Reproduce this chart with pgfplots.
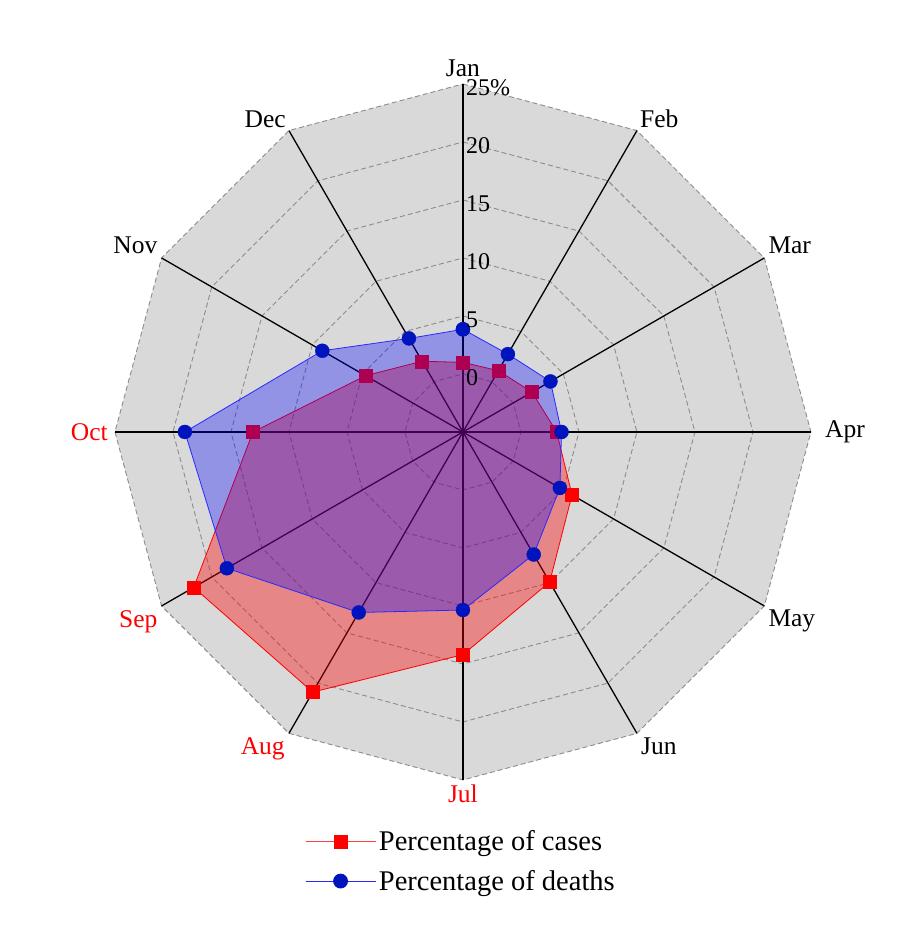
\documentclass[border=0pt]{standalone}
\usepackage{pgfplots}
\pgfplotsset{compat=1.18}
\usepackage{pgfplotstable}
\usepackage{fontspec}
\setmainfont{Liberation Serif}

\definecolor{bggray}{RGB}{217,217,217}
\definecolor{ringgray}{RGB}{140,140,140}
\definecolor{cred}{RGB}{255,0,0}
\definecolor{lblue}{RGB}{40,40,255}
\definecolor{mblue}{RGB}{0,20,190}

\newcommand\mfont{\fontsize{25.5}{30}\selectfont}
\newcommand\tfont{\fontsize{24}{28}\selectfont}
\newcommand\lfont{\fontsize{28.5}{32}\selectfont}

% ang = degrees clockwise from top (Jan); last row closes the polygon
\pgfplotstableread{
ang cases deaths
0   1.0   3.85
30  1.1   2.75
60  1.87  3.71
90  3.08  3.5
120 5.86  4.65
150 9.95  7.2
180 14.2  10.35
210 20.9  12.97
240 21.8  18.5
270 13.1  18.97
300 4.7   9.0
330 2.04  4.31
360 1.0   3.85
}\data

\begin{document}
\begin{tikzpicture}
\begin{axis}[
  x=11.6pt, y=11.6pt,
  xmin=-39.91, xmax=38.19, ymin=-43.97, ymax=37.24,
  hide axis, clip=false, clip marker paths=true,
  legend style={at={(axis cs:-13.62,-34.1)}, anchor=north west, draw=none, fill=none,
    font=\lfont, row sep=12pt, inner sep=0pt, nodes={inner sep=3pt}},
  legend cell align=left,
  legend image code/.code={\draw[mark repeat=2,mark phase=2] plot coordinates {(0pt,0pt)(35pt,0pt)(70pt,0pt)};},
]
% page extent
\path (axis cs:-39.91,-43.97) rectangle (axis cs:38.19,37.24);
% background polygon
\addplot[forget plot, fill=bggray, draw=ringgray, dash pattern=on 5pt off 3pt, line width=0.9pt]
  table[x expr={30*sin(\thisrow{ang})}, y expr={30*cos(\thisrow{ang})}] {\data};
% rings
\pgfplotsinvokeforeach{5,10,15,20,25}{
\addplot[forget plot, draw=ringgray, dash pattern=on 5pt off 3pt, line width=0.9pt]
  table[x expr={#1*sin(\thisrow{ang})}, y expr={#1*cos(\thisrow{ang})}] {\data};
}
% spokes
\pgfplotsinvokeforeach{0,30,60,90,120,150,180,210,240,270,300,330}{
\addplot[forget plot, black, line width=1.3pt] coordinates {(0,0) ({30*sin(#1)},{30*cos(#1)})};
}
% cases
\addplot[forget plot, draw=cred, line width=0.8pt, fill=cred, fill opacity=0.38]
  table[x expr={(\thisrow{cases}+5)*sin(\thisrow{ang})}, y expr={(\thisrow{cases}+5)*cos(\thisrow{ang})}] {\data};
\addplot[forget plot, only marks, mark=square*, mark size=6.5pt, draw=cred, fill=cred]
  table[x expr={(\thisrow{cases}+5)*sin(\thisrow{ang})}, y expr={(\thisrow{cases}+5)*cos(\thisrow{ang})}] {\data};
% deaths
\addplot[forget plot, draw=lblue, line width=0.8pt, fill=blue, fill opacity=0.32]
  table[x expr={(\thisrow{deaths}+5)*sin(\thisrow{ang})}, y expr={(\thisrow{deaths}+5)*cos(\thisrow{ang})}] {\data};
\addplot[forget plot, only marks, mark=*, mark size=7pt, draw=mblue, fill=mblue]
  table[x expr={(\thisrow{deaths}+5)*sin(\thisrow{ang})}, y expr={(\thisrow{deaths}+5)*cos(\thisrow{ang})}] {\data};

% radial tick labels
\node[anchor=base west, inner sep=0pt, font=\tfont] at (axis cs:0.25,3.97) {0};
\node[anchor=base west, inner sep=0pt, font=\tfont] at (axis cs:0.25,8.97) {5};
\node[anchor=base west, inner sep=0pt, font=\tfont] at (axis cs:0.25,13.97) {10};
\node[anchor=base west, inner sep=0pt, font=\tfont] at (axis cs:0.25,18.97) {15};
\node[anchor=base west, inner sep=0pt, font=\tfont] at (axis cs:0.25,23.97) {20};
\node[anchor=base west, inner sep=0pt, font=\tfont] at (axis cs:0.25,28.97) {25\%};

% month labels
\node[anchor=south, inner sep=7pt, font=\mfont] at (axis cs:0,30) {Jan};
\node[anchor=south west, inner sep=3pt, font=\mfont] at (axis cs:15,25.98) {Feb};
\node[anchor=south west, inner sep=4pt, font=\mfont] at (axis cs:25.98,15) {Mar};
\node[anchor=west, inner sep=14pt, font=\mfont] at (axis cs:30,0) {Apr};
\node[anchor=north west, inner sep=4pt, font=\mfont] at (axis cs:25.98,-15) {May};
\node[anchor=north west, inner sep=4pt, font=\mfont] at (axis cs:15,-25.98) {Jun};
\node[anchor=north, inner sep=5pt, text=cred, font=\mfont] at (axis cs:0,-30) {Jul};
\node[anchor=north east, inner sep=4pt, text=cred, font=\mfont] at (axis cs:-15,-25.98) {Aug};
\node[anchor=north east, inner sep=4pt, text=cred, font=\mfont] at (axis cs:-25.98,-15) {Sep};
\node[anchor=east, inner sep=7pt, text=cred, font=\mfont] at (axis cs:-30,0) {Oct};
\node[anchor=south east, inner sep=4pt, font=\mfont] at (axis cs:-25.98,15) {Nov};
\node[anchor=south east, inner sep=3pt, font=\mfont] at (axis cs:-15,25.98) {Dec};

\addlegendimage{draw=cred!75, line width=0.8pt, mark=square*, mark size=6.5pt, mark options={draw=cred, fill=cred}}
\addlegendentry{Percentage of cases}
\addlegendimage{draw=lblue, line width=0.8pt, mark=*, mark size=7pt, mark options={draw=mblue, fill=mblue}}
\addlegendentry{Percentage of deaths}
\end{axis}
\end{tikzpicture}
\end{document}
